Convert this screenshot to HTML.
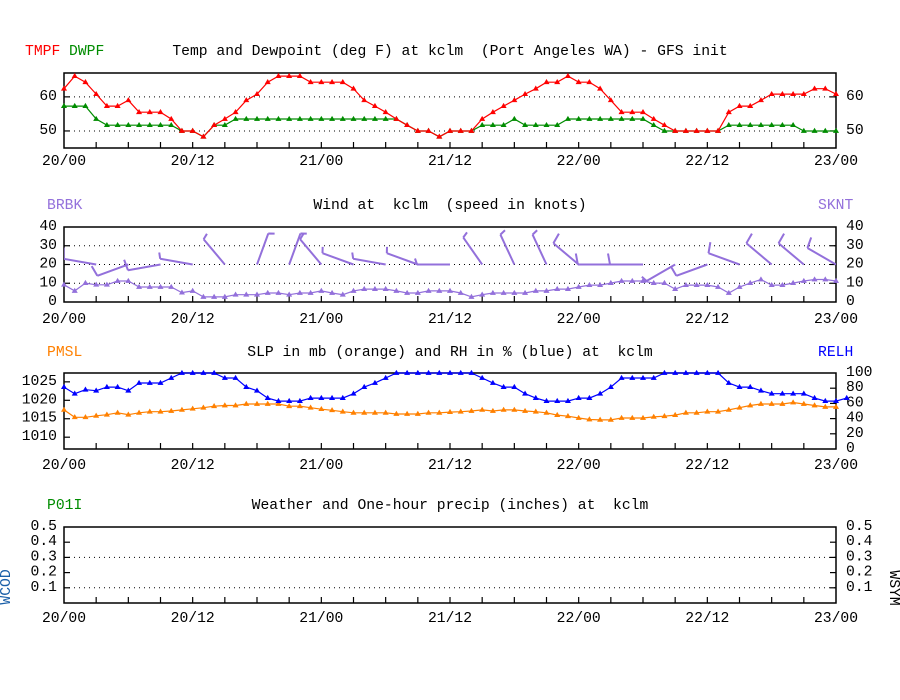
<!DOCTYPE html>
<html><head><meta charset="utf-8">
<style>
html,body{margin:0;padding:0;background:#fff;}
svg{display:block;}
text{font-family:"Liberation Mono",monospace;font-size:14.7px;white-space:pre;}
</style></head>
<body>
<svg id="chart" width="900" height="700" viewBox="0 0 900 700" xmlns="http://www.w3.org/2000/svg">
<defs>
<clipPath id="clipWind"><rect x="64" y="227" width="772" height="75"/></clipPath>
</defs>
<rect width="900" height="700" fill="#fff"/>
<g id="g"></g>
</svg>
<script>
const timeLabels = ["20/00","20/12","21/00","21/12","22/00","22/12","23/00"];
const tmpf = [62.4,66.1,64.3,60.8,57.3,57.3,59,55.5,55.5,55.5,53.5,50,50,48.3,51.7,53.5,55.5,59,60.8,64.3,66.1,66.1,66.1,64.3,64.3,64.3,64.3,62.4,59,57.3,55.5,53.5,51.7,50,50,48.3,50,
50,50,53.5,55.5,57.3,59,60.8,62.4,64.3,64.3,66.1,64.3,64.3,62.4,59,55.5,55.5,55.5,53.5,51.7,50,50,50,50,50,55.5,57.3,57.3,59,60.8,60.8,60.8,60.8,62.4,62.4,60.8];
const dwpf = [57.3,57.3,57.3,53.5,51.7,51.7,51.7,51.7,51.7,51.7,51.7,50,50,48.3,51.7,51.7,53.5,53.5,53.5,53.5,53.5,53.5,53.5,53.5,53.5,53.5,53.5,53.5,53.5,53.5,53.5,53.5,51.7,50,50,48.3,50,
50,50,51.7,51.7,51.7,53.5,51.7,51.7,51.7,51.7,53.5,53.5,53.5,53.5,53.5,53.5,53.5,53.5,51.7,50,50,50,50,50,50,51.7,51.7,51.7,51.7,51.7,51.7,51.7,50,50,50,50];
const sknt = [9.2,5.9,10.1,9.2,9.2,11.2,11.2,8,8,8,8,5,5.9,2.7,2.7,2.7,3.9,3.9,3.9,4.8,4.8,3.9,4.8,4.8,5.9,4.8,3.9,5.9,6.9,6.9,6.9,5.9,4.8,4.8,5.9,5.9,5.9,
4.8,2.7,3.9,4.8,4.8,4.8,4.8,5.9,5.9,6.9,6.9,8,9,9,10.1,11.2,11.2,11.2,10.1,10.1,6.9,9,9,9,8,4.8,8,10.1,12,9,9,10.1,11.2,12,12,11.2];
const drct = [280,280,250,260,280,320,20,20,320,290,280,290,270,325,335,335,310,270,270,240,250,290,310,310,300];
const pmsl = [1017.4,1015.4,1015.4,1015.8,1016.1,1016.6,1016.1,1016.6,1016.9,1016.9,1017.1,1017.4,1017.7,1018,1018.4,1018.6,1018.6,1019,1019,1019,1019,1018.4,1018.4,1018,1017.6,1017.3,1016.9,1016.6,1016.6,1016.6,1016.6,1016.3,1016.3,1016.3,1016.6,1016.6,1016.8,
1016.9,1017.1,1017.4,1017.1,1017.4,1017.4,1017.1,1016.9,1016.6,1016,1015.7,1015.2,1014.8,1014.7,1014.7,1015.2,1015.2,1015.2,1015.5,1015.7,1016,1016.6,1016.6,1016.9,1016.9,1017.4,1018,1018.6,1019,1019,1019,1019.4,1019,1018.6,1018.2,1018.2];
const relh = [81.5,72.7,78,76.7,81.5,81.5,76.7,86.8,86.8,86.8,93.4,100,100,100,100,93.4,93.4,81.5,76.7,67,63,63,63,67,67,67,67,72.7,81.5,86.8,93.4,100,100,100,100,100,100,
100,100,93.4,86.8,81.5,81.5,72.7,67,63,63,63,67,67,72.7,81.5,93.4,93.4,93.4,93.4,100,100,100,100,100,100,86.8,81.5,81.5,76.7,72.7,72.7,72.7,72.7,67,63,63,67];

const NS="http://www.w3.org/2000/svg";
const G=document.getElementById('g');
function el(tag,attrs,parent){const e=document.createElementNS(NS,tag);for(const k in attrs)e.setAttribute(k,attrs[k]);(parent||G).appendChild(e);return e;}
function txt(x,y,s,fill,anchor,parent){const t=el('text',{x:x,y:y,fill:fill||'#000','text-anchor':anchor||'start','dominant-baseline':'central'},parent);t.style.whiteSpace='pre';t.textContent=s;return t;}
const X0=64,X1=836,HOURS=72;
function X(h){return X0+h*(X1-X0)/HOURS;}
function scale(d0,d1,p0,p1){return v=>p0+(v-d0)*(p1-p0)/(d1-d0);}

function frame(name,top,bot,labY){
  const g=el('g',{});
  
  
  el('rect',{x:X0,y:top,width:X1-X0,height:bot-top,fill:'none',stroke:'#000','stroke-width':1.5},g);
  for(let h=3;h<HOURS;h+=3){el('line',{x1:X(h),x2:X(h),y1:bot,y2:bot-6,stroke:'#000','stroke-width':1.2},g);}
  timeLabels.forEach((s,i)=>{const t=txt(X(i*12),labY,s,'#000','middle',g);
    
    });
  return g;
}
function hgrid(g,y){el('line',{x1:X0,x2:X1,y1:y,y2:y,stroke:'#000','stroke-width':1,'stroke-dasharray':'1,4'},g);}
function ytick(g,y,side){if(side==='l')el('line',{x1:X0,x2:X0+6,y1:y,y2:y,stroke:'#000','stroke-width':1.2},g);else el('line',{x1:X1-6,x2:X1,y1:y,y2:y,stroke:'#000','stroke-width':1.2},g);}
function series(name,vals,fy,color){
  const g=el('g',{});
  
  
  el('polyline',{points:vals.map((v,i)=>X(i).toFixed(1)+','+fy(v).toFixed(1)).join(' '),fill:'none',stroke:color,'stroke-width':1.2},g);
  vals.forEach((v,i)=>{const x=X(i),y=fy(v);
    const m=el('path',{d:`M${x-2.5},${y+1.6}L${x},${y-2.6}L${x+2.5},${y+1.6}Z`,fill:color,stroke:color,'stroke-width':0.6},g);
    
    });
}

/* Panel 1 */
{const top=73,bot=148;const fy=scale(45,67,bot,top);
 const g=frame('temp-panel',top,bot,162);
 [50,60].forEach(v=>{hgrid(g,fy(v));ytick(g,fy(v),'l');ytick(g,fy(v),'r');txt(57,fy(v),String(v),'#000','end',g);txt(846,fy(v),String(v),'#000','start',g);});
 const t=txt(450,52,'Temp and Dewpoint (deg F) at kclm  (Port Angeles WA) - GFS init','#000','middle');
 
 const a=txt(25,52,'TMPF','#ff0000');
 const b=txt(69,52,'DWPF','#008c00');
 series('dwpf-line',dwpf,fy,'#008c00');
 series('tmpf-line',tmpf,fy,'#ff0000');
}
/* Panel 2 */
{const top=227,bot=302;const fy=scale(0,40,bot,top);
 const g=frame('wind-panel',top,bot,320);
 [0,10,20,30,40].forEach(v=>{if(v>0&&v<40){hgrid(g,fy(v));ytick(g,fy(v),'l');ytick(g,fy(v),'r');}txt(57,fy(v),String(v),'#000','end',g);txt(846,fy(v),String(v),'#000','start',g);});
 const t=txt(450,206,'Wind at  kclm  (speed in knots)','#000','middle');
 const a=txt(47,206,'BRBK','#9370db');
 const b=txt(818,206,'SKNT','#9370db');
 series('wind-speed-line',sknt,fy,'#9370db');
 const bg=el('g',{'clip-path':'url(#clipWind)'});
 
 drct.forEach((d,k)=>{const h=k*3;const sx=X(h),sy=fy(20);const r=d*Math.PI/180;
   const ux=Math.sin(r),uy=-Math.cos(r);const L=33;
   const ex=sx+ux*L,ey=sy+uy*L;const sp=sknt[h];
   const fl=sp>=7.5?11:(sp>=2.5?6:0);
   let dd=`M${sx},${sy}L${ex},${ey}`;
   if(fl)dd+=`M${ex},${ey}L${ex-uy*fl+ux*2},${ey+ux*fl+uy*2}`;
   const p=el('path',{d:dd,fill:'none',stroke:'#9370db','stroke-width':2},bg);
   });
}
/* Panel 3 */
{const top=373,bot=449;const fy=scale(1006.8,1027.4,bot,top);const fr=scale(0,100,bot,top);
 const g=frame('slp-rh-panel',top,bot,466);
 [1010,1015,1020,1025].forEach(v=>{ytick(g,fy(v),'l');txt(57,fy(v),String(v),'#000','end',g);});
 [0,20,40,60,80,100].forEach(v=>{if(v>0&&v<100)ytick(g,fr(v),'r');txt(846,fr(v),String(v),'#000','start',g);});
 const t=txt(450,353,'SLP in mb (orange) and RH in % (blue) at  kclm','#000','middle');
 const a=txt(47,353,'PMSL','#ff8000');
 const b=txt(818,353,'RELH','#0000ff');
 series('pmsl-line',pmsl,fy,'#ff8000');
 series('relh-line',relh,fr,'#0000ff');
}
/* Panel 4 */
{const top=527,bot=603;const fy=scale(0,0.5,bot,top);
 const g=frame('precip-panel',top,bot,619);
 [0.1,0.2,0.3,0.4,0.5].forEach(v=>{if(v<0.5){ytick(g,fy(v),'l');ytick(g,fy(v),'r');}if(Math.abs(v-0.1)<1e-9||Math.abs(v-0.3)<1e-9)hgrid(g,fy(v));
   txt(57,fy(v),v.toFixed(1),'#000','end',g);txt(846,fy(v),v.toFixed(1),'#000','start',g);});
 const t=txt(450,506,'Weather and One-hour precip (inches) at  kclm','#000','middle');
 const a=txt(47,506,'P01I','#008c00');
 const w=txt(0,0,'WCOD','#1a5fa8','middle');w.setAttribute('transform','translate(7,587) rotate(-90)');
 const s=txt(0,0,'WSYM','#000','middle');s.setAttribute('transform','translate(893,588) rotate(90)');
}
</script>
</body></html>
